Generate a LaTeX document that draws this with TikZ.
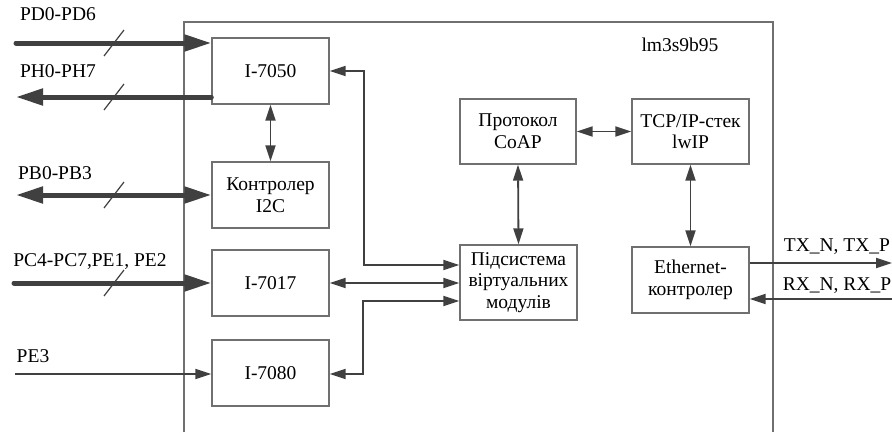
\documentclass[tikz,border=0pt]{standalone}
\usepackage{fontspec}
\setmainfont{LiberationSerif}[Extension=.ttf,UprightFont=*-Regular,BoldFont=*-Bold,ItalicFont=*-Italic,BoldItalicFont=*-BoldItalic]
\usetikzlibrary{arrows.meta}
\definecolor{linegray}{HTML}{404040}
\definecolor{boxgray}{HTML}{707070}
\tikzset{
  block/.style={draw=boxgray,line width=1.4pt,rectangle,align=center,minimum width=117pt,minimum height=66pt,inner sep=2pt},
  lbl/.style={inner sep=0pt},
  link/.style={draw=linegray,line width=1.8pt,-{Triangle[length=16pt,width=10pt]}},
  dlink/.style={draw=linegray,line width=1.8pt,{Triangle[length=16pt,width=10pt]}-{Triangle[length=16pt,width=10pt]}},
  bus/.style={draw=linegray,line width=5pt,line cap=round,-{Triangle[length=27pt,width=16pt]}},
  dbus/.style={draw=linegray,line width=5pt,{Triangle[length=27pt,width=16pt]}-{Triangle[length=27pt,width=16pt]}},
  slash/.style={draw=linegray,line width=1.2pt}
}
\begin{document}
\begin{tikzpicture}[x=1pt,y=-1pt,font=\fontsize{19.5}{21.7}\selectfont]
            \useasboundingbox (0,0) rectangle (892,432);
            \draw[boxgray,line width=1.4pt] (184,432)--(184,22)--(773,22)--(773,432);
            \node[lbl] (chip) at (680,45) {lm3s9b95};
            % modules
            \node[block] (i7050) at (270.5,71) {I-7050};
            \node[block] (i2c) at (270.5,195) {Контролер\\I2C};
            \node[block] (i7017) at (270.5,283) {I-7017};
            \node[block] (i7080) at (270.5,373) {I-7080};
            \node[block,minimum width=116pt,minimum height=65pt] (coap) at (518,131.5) {Протокол\\CoAP};
            \node[block,minimum height=65pt] (tcp) at (690.5,131.5) {TCP/IP-стек\\lwIP};
            \node[block,minimum height=75pt] (vsub) at (518.5,282.5) {Підсистема\\віртуальних\\модулів};
            \node[block] (eth) at (690.5,280) {Ethernet-\\контролер};
            % outside ends
            \coordinate (pd) at (16,43);
            \coordinate (ph) at (16,97);
            \coordinate (pb) at (16,195);
            \coordinate (pc) at (14,283);
            \coordinate (pe) at (15,374);
            \coordinate (tx) at (892,263);
            \coordinate (rx) at (892,299);
            \node[lbl] (pdlbl) at (58,14) {PD0-PD6};
            \node[lbl] (phlbl) at (58,71) {PH0-PH7};
            \node[lbl] (pblbl) at (55,173) {PB0-PB3};
            \node[lbl] (pclbl) at (90,262) {PC4-PC7,PE1, PE2};
            \node[lbl] (pelbl) at (33,356) {PE3};
            \node[lbl] (txlbl) at (837,247) {TX\_N, TX\_P};
            \node[lbl] (rxlbl) at (837,286) {RX\_N, RX\_P};
            % ports
            \draw[bus] (pd) -- ([yshift=28pt]i7050.west);
            \draw[bus] ([yshift=-26pt]i7050.west) -- (ph);
            \draw[dbus] (pb) -- (i2c.west);
            \draw[bus] (pc) -- (i7017.west);
            \draw[link] (pe) -- ([yshift=-1pt]i7080.west);
            \foreach \yy in {43,97,195,283}{
                \draw[slash] (104,\yy+13)--(124,\yy-13);
            }
            % internal links
            \draw[dlink] (i7050.south) -- (i2c.north);
            \draw[dlink] (i7050.east) -- ++(34,0) |- ([yshift=17.5pt]vsub.west);
            \draw[dlink] (i7017.east) -- (i7017.east -| vsub.west);
            \draw[dlink] ([yshift=-1pt]i7080.east) -- ++(33,0) |- ([yshift=-18.5pt]vsub.west);
            \draw[dlink] (coap.south) -- (vsub.north);
            \draw[dlink] (coap.east) -- (tcp.west);
            \draw[dlink] (tcp.south) -- (eth.north);
            \draw[link] ([yshift=17pt]eth.east) -- (tx);
            \draw[link] (rx) -- ([yshift=-19pt]eth.east);
        \end{tikzpicture}
\end{document}
